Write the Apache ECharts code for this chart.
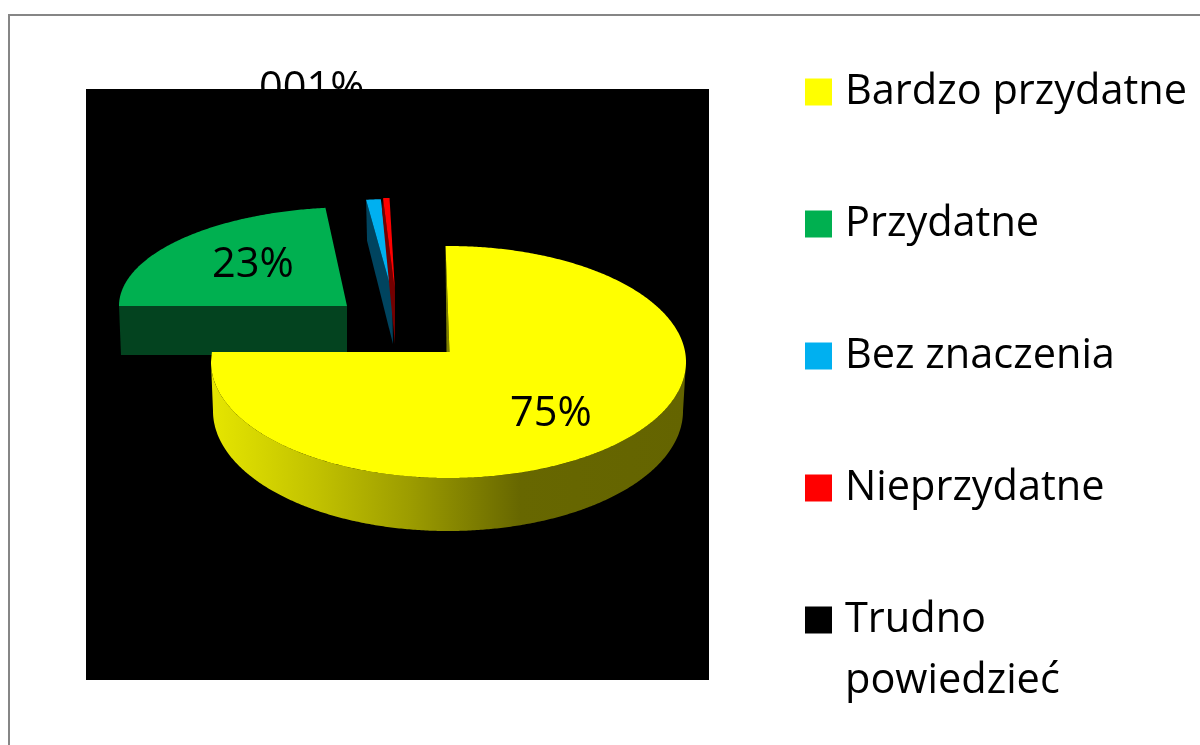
<!DOCTYPE html>
<html><head><meta charset="utf-8">
<style>html,body{margin:0;padding:0;background:#fff}#c{width:1200px;height:745px}</style>
<script src="https://cdn.jsdelivr.net/npm/echarts@6/dist/echarts.min.js"></script></head>
<body><div id="c"></div>
<script>
// --- data ---
const categories = ['Bardzo przydatne', 'Przydatne', 'Bez znaczenia', 'Nieprzydatne', 'Trudno powiedzieć'];
const shares = [75.2, 23, 1.1, 0.49, 0.21];
const hiddenLabelText = '001%';
// --- styles ---
const topColors = ['#ffff00', '#00b050', '#00b0f0', '#ff0000', '#000000'];
const sideColors = ['#808000', '#03431f', '#00445f', '#730000', '#000000'];
const fontFamily = '"Open Sans", sans-serif';
const fontSize = 41.5;
const startAngle = -0.72;
// --- 3D look of each exploded slice: apex, ellipse centre, radii, wall ---
const sliceLayout = [
  {ax: 449.5, ay: 352, cx: 448.5, cy: 362, rx: 237.5, ry: 116, label: [551, 414]},
  {ax: 347, ay: 306, cx: 355, cy: 306, rx: 236, ry: 99, wall: {drop: 49, inset: 2, startDrop: 49}, label: [253, 265]},
  {ax: 392, ay: 292, cx: 393, cy: 292, rx: 215, ry: 93, wall: {drop: 52, inset: 1, startDrop: 41, apexShift: 1}},
  {ax: 395, ay: 292, cx: 395, cy: 292, rx: 212, ry: 94, wall: {drop: 52, inset: -1, startDrop: 12, apexShift: 0}},
  {ax: 396, ay: 292, cx: 396, cy: 292, rx: 212, ry: 94}
];
const yellowBase = {cx: 448, cy: 411, rx: 235, ry: 120};
const legendWrap = {'Trudno powiedzieć': ['Trudno', 'powiedzieć']};

const total = shares.reduce((a, b) => a + b, 0);
function sliceAngles(i) {
  let a = startAngle;
  for (let k = 0; k < i; k++) a += shares[k] / total * 360;
  return [a, a + shares[i] / total * 360];
}
const rad = d => d * Math.PI / 180;
const onEllipse = (e, t) => [e.cx + e.rx * Math.sin(rad(t)), e.cy - e.ry * Math.cos(rad(t))];
function arc(e, a, b) {
  const n = Math.max(2, Math.ceil(Math.abs(b - a) * 2)), pts = [];
  for (let j = 0; j <= n; j++) pts.push(onEllipse(e, a + (b - a) * j / n));
  return pts;
}

function renderSlice(i, api) {
  const L = sliceLayout[i], [a0, a1] = sliceAngles(i), toPx = p => api.coord(p), kids = [];
  const poly = (pts, fill) => kids.push({type: 'polygon', shape: {points: pts.map(toPx)}, style: {fill}, silent: true});
  const rim = arc(L, a0, a1);
  if (i === 0) {
    const front = arc(L, 90, 270).concat(arc(yellowBase, 270, 90));
    poly(front, new echarts.graphic.LinearGradient(0, 0, 1, 0, [
      {offset: 0, color: '#e6e600'}, {offset: 0.22, color: '#c2c200'},
      {offset: 0.42, color: '#9c9c00'}, {offset: 0.65, color: '#676700'}, {offset: 1, color: '#646400'}
    ]));
    poly([rim[0], [L.ax - 3, L.ay + 1], [L.ax, L.ay + 1]], sideColors[0]);
  }
  if (L.wall) {
    const s = rim[0], w = L.wall;
    const tipX = L.ax + (w.apexShift || 0);
    poly([s, [L.ax, L.ay], [tipX, L.ay + w.drop], [s[0] + w.inset, s[1] + w.startDrop]], sideColors[i]);
  }
  const pts = [[L.ax, L.ay]].concat(rim);
  const last = rim[rim.length - 1];
  if (i === 0) {
    const dy = (L.cy - L.ay) / L.ry;
    pts.push([L.cx - L.rx * Math.sqrt(1 - dy * dy), L.ay]);
  } else pts.push(last);
  poly(pts, topColors[i]);
  if (L.label) {
    const p = toPx(L.label);
    kids.push({type: 'text', x: p[0], y: p[1], silent: true, style: {
      text: Math.round(shares[i]) + '%', fill: '#000', font: fontSize + 'px ' + fontFamily,
      textAlign: 'center', textVerticalAlign: 'middle'}});
  }
  return {type: 'group', children: kids};
}

const drawOrder = [4, 1, 2, 3, 0];
const series = drawOrder.map((i, idx) => ({
  type: 'custom', name: categories[i], coordinateSystem: 'cartesian2d', z: 2 + idx, clip: false,
  itemStyle: {color: topColors[i]}, silent: true, animation: false,
  data: [[shares[i]]], encode: {x: -1, y: -1},
  renderItem: (p, api) => renderSlice(i, api)
}));

const chart = echarts.init(document.getElementById('c'), null, {renderer: 'canvas'});
chart.setOption({
  animation: false,
  backgroundColor: '#fff',
  grid: {show: true, left: 86, top: 89, width: 623, height: 591, backgroundColor: '#000', borderWidth: 0, z: 1},
  xAxis: {type: 'value', min: 86, max: 709, show: false},
  yAxis: {type: 'value', min: 89, max: 680, inverse: true, show: false},
  legend: {
    orient: 'vertical', left: 805, top: 71, padding: 0, itemWidth: 27, itemHeight: 27, itemGap: 90, icon: 'rect',
    data: categories, selectedMode: false,
    formatter: n => legendWrap[n] ? legendWrap[n][0] : n,
    textStyle: {fontFamily, fontSize, color: '#000', padding: [-4, 0, 0, 8]}
  },
  series,
  graphic: [
    {type: 'rect', z: 0, silent: true, shape: {x: 9, y: 15, width: 1400, height: 1000},
      style: {fill: 'none', stroke: '#868686', lineWidth: 2}},
    {type: 'text', z: -1, silent: true, left: 259, top: 68,
      style: {text: hiddenLabelText, fill: '#000', font: fontSize + 'px ' + fontFamily}},
    {type: 'text', z: 5, silent: true, left: 845, top: 660,
      style: {text: legendWrap[categories[4]][1], fill: '#000', font: fontSize + 'px ' + fontFamily}}
  ]
});
</script></body></html>
